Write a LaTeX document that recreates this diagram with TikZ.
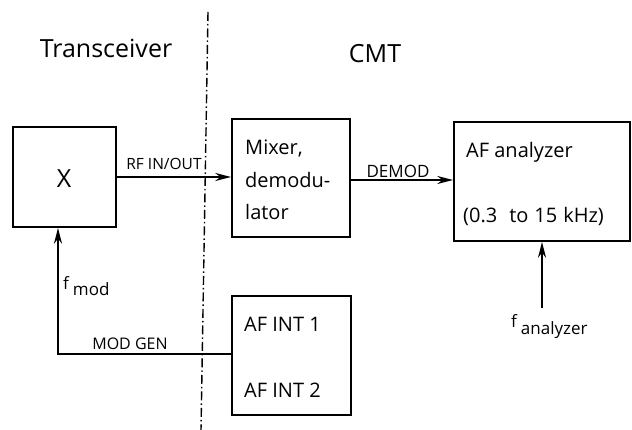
\documentclass[tikz,border=0pt]{standalone}
\usepackage{fontspec}
\setmainfont{Open Sans}
\usetikzlibrary{arrows.meta}
\newcommand{\fsz}[1]{\fontsize{#1}{#1}\selectfont}
\newcommand{\lowsub}[1]{\hspace{4pt}\raisebox{-6pt}{#1}}

\begin{document}
\begin{tikzpicture}[x=1pt,y=-1pt,
    blockbox/.style={draw,line width=1.6pt,inner sep=0pt},
    boxtext/.style={anchor=base west,inner sep=0pt,font=\fsz{20}},
    sigtext/.style={anchor=base,inner sep=0pt,font=\fsz{16}},
    sigline/.style={line width=1.6pt,-{Stealth[length=16pt,width=8pt]}}]
  \useasboundingbox (0,0) rectangle (632,430);
  % border between the two units
  \coordinate (septop) at (208,12);
  \coordinate (sepbot) at (201,430);
  \draw[line width=1.4pt,dash pattern=on 9pt off 3pt on 1.5pt off 3pt] (septop) -- (sepbot);
  \node[anchor=base,inner sep=0pt,font=\fsz{25}] (trx) at (106,58) {Transceiver};
  \node[anchor=base,inner sep=0pt,font=\fsz{25}] (cmt) at (375,63) {CMT};
  % blocks
  \node[blockbox,minimum width=103pt,minimum height=100pt] (xbox) at (64.5,177) {};
  \node[blockbox,minimum width=118pt,minimum height=118pt] (mix) at (291,178) {};
  \node[blockbox,minimum width=176pt,minimum height=119pt] (ana) at (542,181.5) {};
  \node[blockbox,minimum width=119pt,minimum height=119pt] (afint) at (291.5,355.5) {};
  \node[anchor=base,inner sep=0pt,font=\fsz{25}] (xlab) at (64,188) {X};
  \node[boxtext] (mix1) at (245,155) {Mixer,};
  \node[boxtext] (mix2) at (245,188) {demodu-};
  \node[boxtext] (mix3) at (245,220) {lator};
  \node[boxtext] (ana1) at (466,158) {AF analyzer};
  \node[boxtext] (ana2) at (463,223) {(0.3\hspace{12pt}to\hspace{6pt}15\hspace{6pt}kHz)};
  \node[boxtext] (int1) at (244,332) {AF INT 1};
  \node[boxtext] (int2) at (244,397) {AF INT 2};
  % signals
  \draw[sigline] (xbox.east |- 0,177) -- (mix.west |- 0,177);
  \node[sigtext,font=\fsz{15.5}] (rflab) at (164,170) {RF IN/OUT};
  \draw[sigline] (mix.east |- 0,180) -- (ana.west |- 0,180);
  \node[sigtext,font=\fsz{17}] (demlab) at (398,178) {DEMOD};
  \coordinate (bend) at (58,354);
  \draw[sigline] (afint.west |- bend) -- (bend) -- (bend |- xbox.south);
  \node[sigtext] (modlab) at (130,349) {MOD GEN};
  \node[anchor=base west,inner sep=0pt,font=\fsz{17}] (fmod) at (63,290) {f\lowsub{mod}};
  \coordinate (fan) at (542,308);
  \draw[sigline] (fan) -- (ana.south);
  \node[anchor=base west,inner sep=0pt,font=\fsz{17}] (fana) at (511,328) {f\lowsub{analyzer}};
\end{tikzpicture}
\end{document}
